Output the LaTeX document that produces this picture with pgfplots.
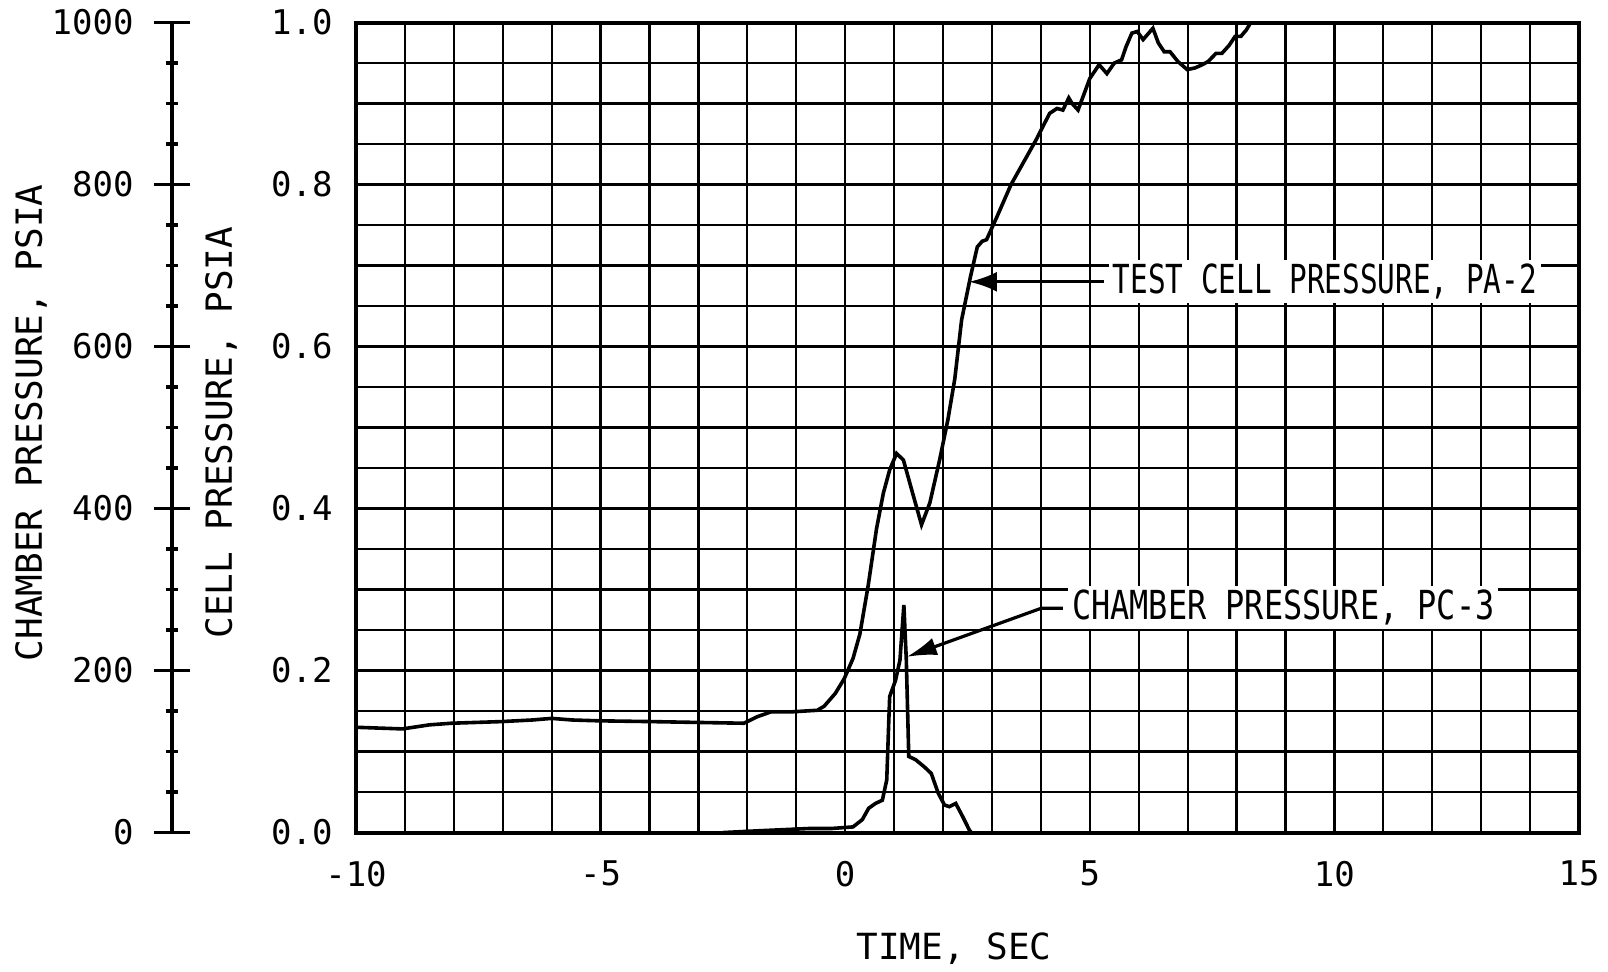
\documentclass[border=0pt]{standalone}
\usepackage{fontspec}
\setmainfont{DejaVu Sans Mono}
\usepackage{graphicx}
\usepackage{pgfplots}
\pgfplotsset{compat=1.18}
\usetikzlibrary{arrows.meta}

\pgfplotstableread{
x y
-10.00 0.130
-9.05 0.128
-8.50 0.133
-8.05 0.135
-7.04 0.137
-6.40 0.139
-6.00 0.141
-5.58 0.139
-5.04 0.138
-3.94 0.137
-3.03 0.136
-2.07 0.135
-1.80 0.143
-1.52 0.149
-1.11 0.149
-0.57 0.151
-0.43 0.156
-0.20 0.172
-0.02 0.190
0.16 0.215
0.30 0.245
0.47 0.305
0.64 0.375
0.78 0.419
0.91 0.448
1.05 0.468
1.19 0.460
1.36 0.423
1.56 0.380
1.73 0.407
1.93 0.460
2.10 0.510
2.24 0.560
2.38 0.633
2.56 0.686
2.70 0.723
2.80 0.730
2.89 0.732
3.10 0.760
3.39 0.800
3.90 0.855
4.18 0.888
4.33 0.894
4.45 0.892
4.57 0.907
4.64 0.900
4.76 0.892
4.84 0.905
5.00 0.931
5.19 0.948
5.35 0.937
5.50 0.950
5.65 0.954
5.74 0.970
5.86 0.987
5.97 0.989
6.09 0.979
6.29 0.993
6.40 0.975
6.52 0.964
6.64 0.964
6.80 0.952
6.99 0.942
7.15 0.944
7.30 0.948
7.42 0.952
7.58 0.962
7.70 0.962
7.85 0.972
7.97 0.983
8.09 0.983
8.20 0.991
8.32 1.003
8.50 1.020
}\cellpressure

\pgfplotstableread{
x y
-2.50 0
-1.85 2
-0.75 5
-0.29 5
0.16 7
0.35 16
0.48 30
0.62 36
0.76 40
0.85 65
0.89 135
0.91 168
1.03 188
1.12 213
1.20 281
1.25 213
1.30 94
1.44 90
1.62 81
1.76 73
1.90 49
2.03 34
2.13 32
2.26 36
2.40 20
2.54 3
2.58 0
}\chamberpressure

\begin{document}
\begin{tikzpicture}
\useasboundingbox (-178pt,-69.7pt) rectangle (626pt,416.3pt);
\begin{axis}[
  at={(0pt,0pt)}, anchor=south west,
  scale only axis, width=611.5pt, height=405pt,
  xmin=-10, xmax=15, ymin=0, ymax=1,
  xtick={-10,-5,0,5,10,15},
  xticklabels={-10,-5,0,5,10,15},
  minor x tick num=4,
  ytick={0,0.2,0.4,0.6,0.8,1.0},
  yticklabels={0.0,0.2,0.4,0.6,0.8,1.0},
  minor y tick num=3,
  grid=both,
  major grid style={black, line width=1.1pt},
  minor grid style={black, line width=1.1pt},
  major tick length=0pt, minor tick length=0pt,
  axis line style={black, line width=2pt},
  ticklabel style={font=\fontsize{17}{20}\selectfont},
  yticklabel style={anchor=east, inner sep=0pt, xshift=-11.5pt},
  xticklabel style={anchor=north, inner sep=0pt, yshift=-14pt},
  xlabel={TIME, SEC},
  xlabel style={at={(axis description cs:0.489,0)}, anchor=center, yshift=-58.2pt, font=\fontsize{18}{21}\selectfont},
  ylabel={CELL PRESSURE, PSIA},
  ylabel style={at={(axis description cs:-0.1104,0.4936)}, anchor=center, font=\fontsize{18}{21}\selectfont},
]
\addplot[black, line width=1.8pt] table {\cellpressure};
\draw[black, line width=1.6pt, -{Latex[length=14pt,width=10pt]}] (axis cs:5.30,0.680) -- (axis cs:2.53,0.680);
\node[anchor=west, fill=white, inner sep=2pt, font=\fontsize{20}{22}\selectfont] at (axis cs:5.38,0.680) {\scalebox{0.734}[1]{TEST CELL PRESSURE, PA-2}};
\draw[black, line width=1.6pt, -{Latex[length=15pt,width=9pt]}] (axis cs:4.45,0.277) -- (axis cs:4.01,0.277) -- (axis cs:1.26,0.217);
\node[anchor=west, fill=white, inner sep=2pt, font=\fontsize{20}{22}\selectfont] at (axis cs:4.55,0.278) {\scalebox{0.797}[1]{CHAMBER PRESSURE, PC-3}};
\end{axis}
\begin{axis}[
  at={(-92pt,0pt)}, anchor=south west,
  scale only axis, width=703.5pt, height=405pt,
  xmin=-13.76, xmax=15, ymin=0, ymax=1000,
  hide x axis,
  axis y line=left,
  axis line style={-, black, line width=2pt},
  ytick={0,200,400,600,800,1000},
  yticklabels={0,200,400,600,800,1000},
  minor y tick num=3,
  tick align=center,
  major tick length=18pt, minor tick length=6pt,
  every tick/.style={black, line width=1.6pt},
  ticklabel style={font=\fontsize{17}{20}\selectfont},
  yticklabel style={anchor=east, inner sep=0pt, xshift=-10pt},
  ylabel={CHAMBER PRESSURE, PSIA},
  ylabel style={at={(axis description cs:-0.1002,0.506)}, anchor=center, font=\fontsize{18}{21}\selectfont},
]
\addplot[black, line width=1.8pt] table {\chamberpressure};
\end{axis}
\end{tikzpicture}
\end{document}
